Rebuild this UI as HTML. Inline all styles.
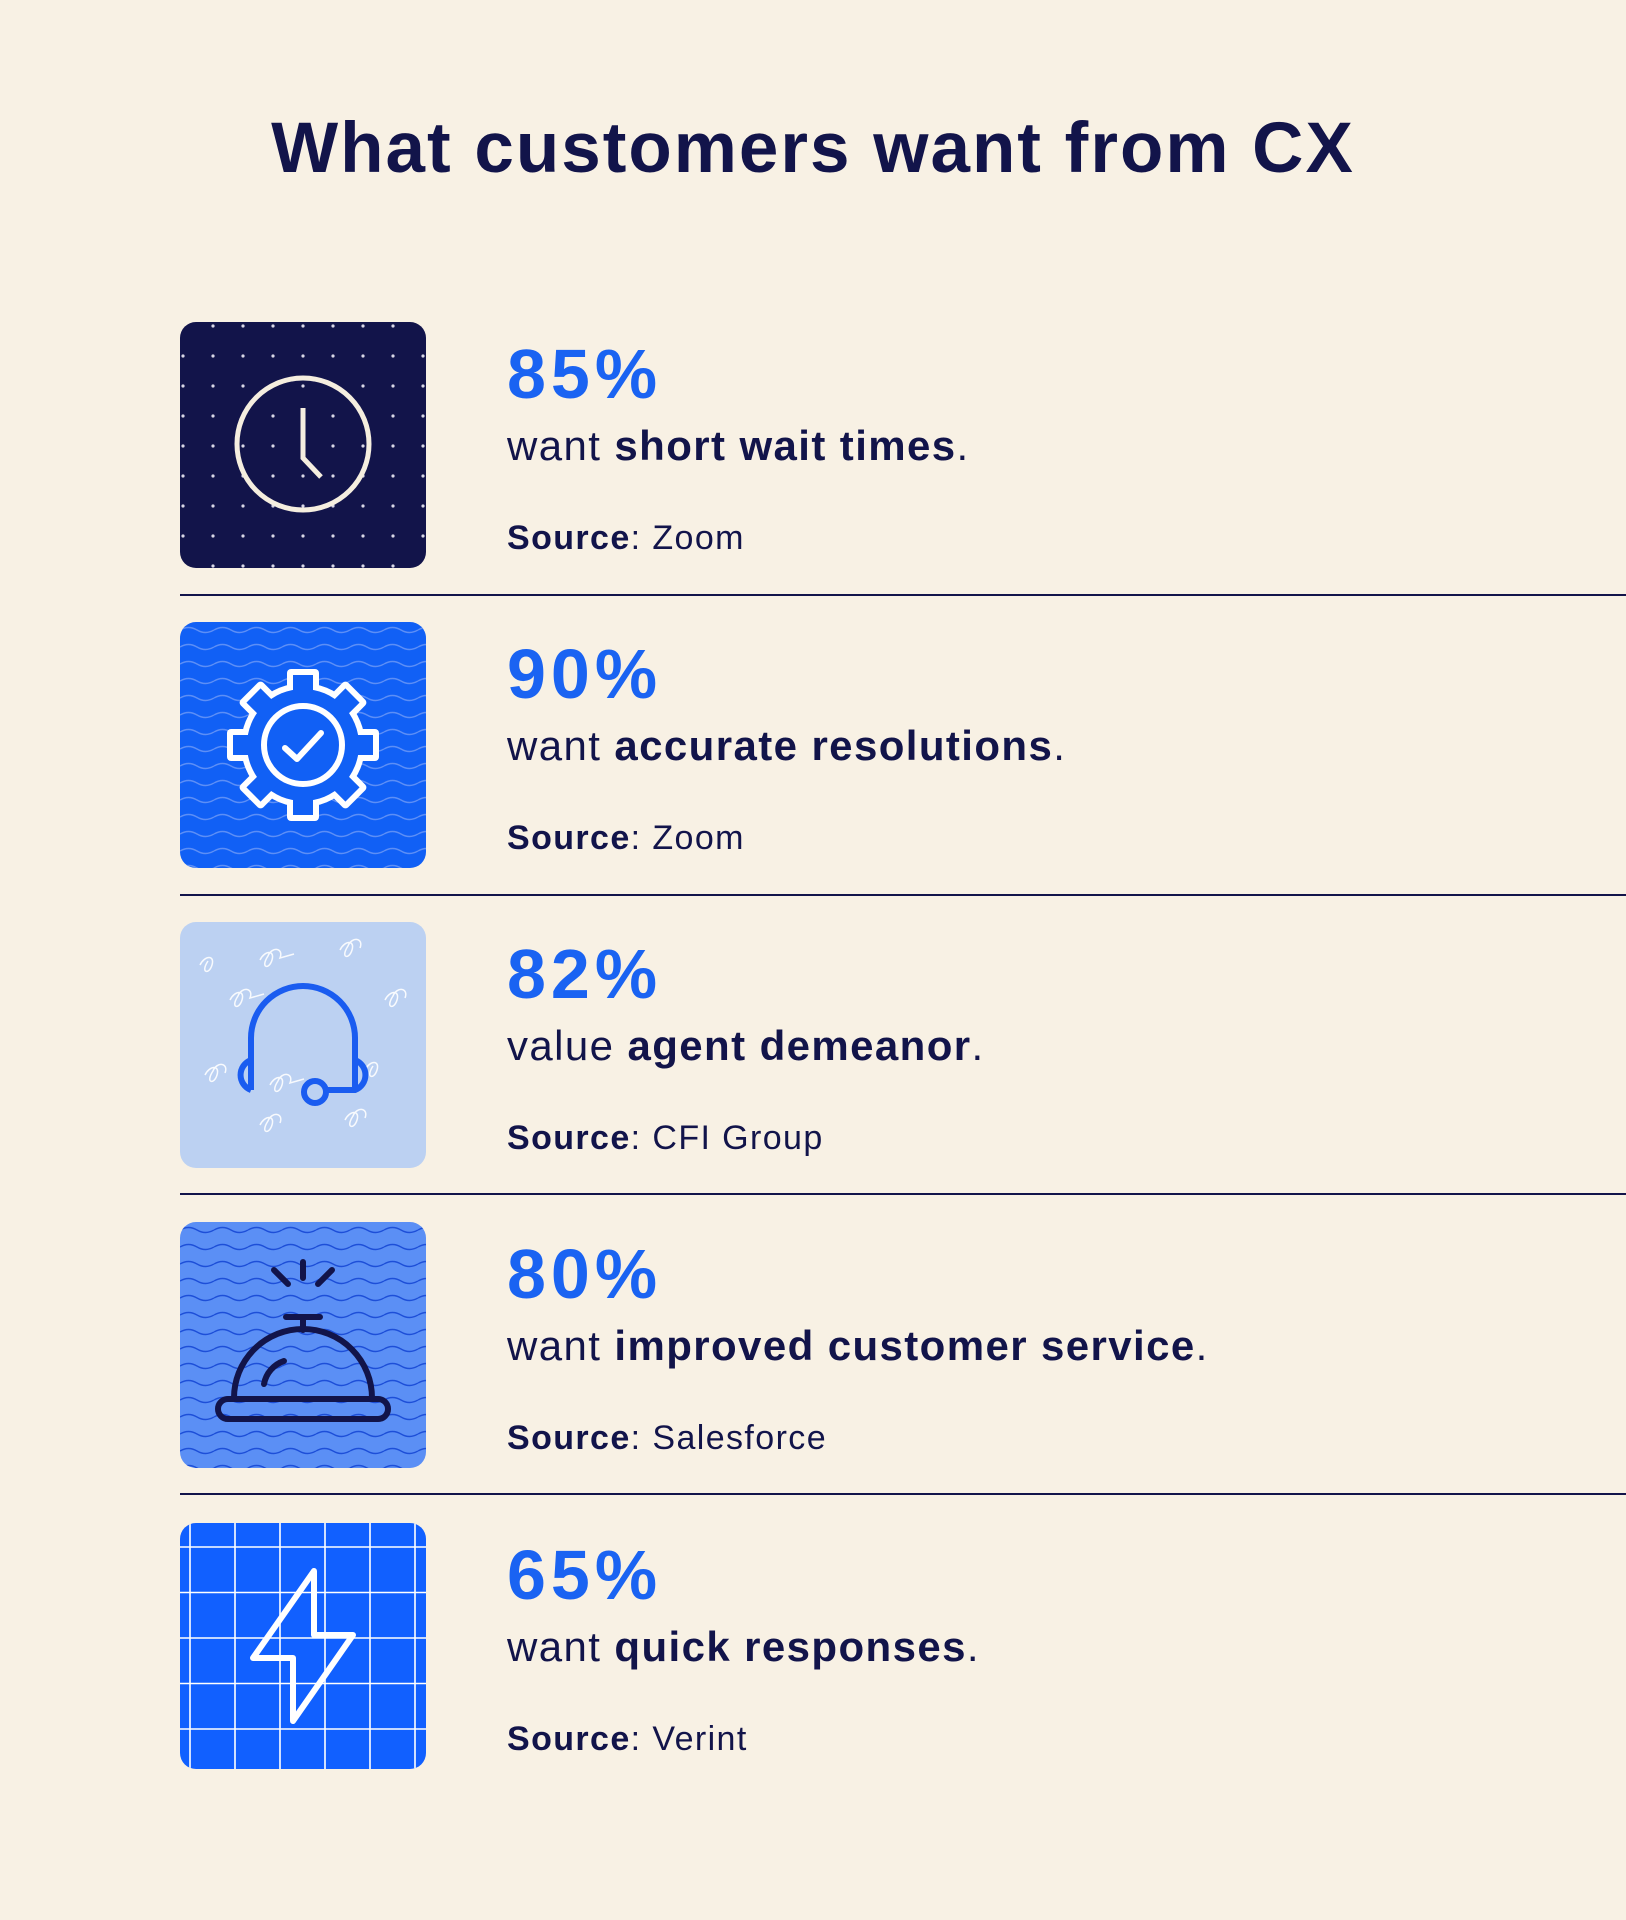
<!DOCTYPE html>
<html><head><meta charset="utf-8"><style>
html,body{margin:0;padding:0;background:#f8f1e4;}
svg{display:block}
text{font-family:"Liberation Sans",sans-serif;}
</style></head><body>
<svg width="1626" height="1920" viewBox="0 0 1626 1920" xmlns="http://www.w3.org/2000/svg">
<defs>
<pattern id="dots" x="180" y="322" width="30" height="30" patternUnits="userSpaceOnUse"><circle cx="3" cy="4" r="1.6" fill="#d8d6e6"/></pattern>
<pattern id="wav1" x="180" y="622" width="34" height="17" patternUnits="userSpaceOnUse"><path d="M0 8 Q8.5 3 17 8 T34 8" fill="none" stroke="#5d8ff6" stroke-width="1.4"/></pattern>
<pattern id="wav2" x="180" y="1222" width="34" height="17" patternUnits="userSpaceOnUse"><path d="M0 8 Q8.5 3 17 8 T34 8" fill="none" stroke="#1d4fd8" stroke-width="1.4"/></pattern>
<pattern id="grid" x="180" y="1523" width="45" height="45.5" patternUnits="userSpaceOnUse"><path d="M10 0V46M0 24H45" stroke="#ffffff" stroke-width="1.6" fill="none"/></pattern>
</defs>
<rect width="1626" height="1920" fill="#f8f1e4"/>
<text x="813" y="172" text-anchor="middle" font-size="71" font-weight="bold" fill="#12144a" letter-spacing="2">What customers want from CX</text>

<!-- row 1 -->
<rect x="180" y="322" width="246" height="246" rx="16" fill="#12144a"/>
<rect x="180" y="322" width="246" height="246" rx="16" fill="url(#dots)"/>
<g fill="none" stroke="#f5eedf" stroke-width="5">
<circle cx="303" cy="444" r="66"/>
<path d="M303 408V458L321 477"/>
</g>
<!-- row 2 -->
<rect x="180" y="622" width="246" height="246" rx="16" fill="#1160f5"/>
<rect x="180" y="622" width="246" height="246" rx="16" fill="url(#wav1)"/>
<g transform="translate(303,745)">
<g fill="#ffffff">
<circle r="62"/>
<g id="tw"><rect x="-16" y="-76" width="32" height="30" rx="4"/></g>
<use href="#tw" transform="rotate(45)"/><use href="#tw" transform="rotate(90)"/><use href="#tw" transform="rotate(135)"/><use href="#tw" transform="rotate(180)"/><use href="#tw" transform="rotate(225)"/><use href="#tw" transform="rotate(270)"/><use href="#tw" transform="rotate(315)"/>
</g>
<g fill="#1160f5">
<circle r="56"/>
<g id="tb"><rect x="-10" y="-70" width="20" height="30"/></g>
<use href="#tb" transform="rotate(45)"/><use href="#tb" transform="rotate(90)"/><use href="#tb" transform="rotate(135)"/><use href="#tb" transform="rotate(180)"/><use href="#tb" transform="rotate(225)"/><use href="#tb" transform="rotate(270)"/><use href="#tb" transform="rotate(315)"/>
</g>
<circle r="39" fill="none" stroke="#fff" stroke-width="6"/>
<path d="M-18 3L-6 14L18 -12" fill="none" stroke="#fff" stroke-width="6" stroke-linecap="round" stroke-linejoin="round"/>
</g>
<!-- row 3 -->
<rect x="180" y="922" width="246" height="246" rx="16" fill="#bcd1f2"/>
<g fill="none" stroke="#ffffff" stroke-width="1.5" opacity="0.9">
<path d="M200 965c5-10 15-10 12 0s-12 8-4-4M260 960c5-10 15-10 12 0s-12 8-4-4c4-10 16-8 12 2l14-4"/>
<path d="M340 950c5-10 15-10 12 0s-12 8-4-4c4-10 16-8 12 2"/>
<path d="M230 1000c5-10 15-10 12 0s-12 8-4-4c4-10 16-8 12 2l14-4"/>
<path d="M385 1000c5-10 15-10 12 0s-12 8-4-4c4-10 16-8 12 2"/>
<path d="M205 1075c5-10 15-10 12 0s-12 8-4-4c4-10 16-8 12 2"/>
<path d="M270 1085c5-10 15-10 12 0s-12 8-4-4c4-10 16-8 12 2l14-4"/>
<path d="M260 1125c5-10 15-10 12 0s-12 8-4-4c4-10 16-8 12 2"/>
<path d="M345 1120c5-10 15-10 12 0s-12 8-4-4c4-10 16-8 12 2"/>
<path d="M365 1070c5-10 15-10 12 0s-12 8-4-4"/>
</g>
<g fill="none" stroke="#1a5cf0" stroke-width="6">
<path d="M251 1090V1038A52 52 0 0 1 355 1038V1090"/>
<path d="M251 1060A16 16 0 0 0 251 1090"/>
<path d="M355 1060A16 16 0 0 1 355 1090H327"/>
<circle cx="315" cy="1092" r="11"/>
</g>
<!-- row 4 -->
<rect x="180" y="1222" width="246" height="246" rx="16" fill="#5b8ff5"/>
<rect x="180" y="1222" width="246" height="246" rx="16" fill="url(#wav2)"/>
<g fill="none" stroke="#12144a" stroke-width="6" stroke-linecap="round">
<path d="M303 1262V1278M274 1270L288 1284M332 1270L318 1284"/>
<path d="M286 1317H320M303 1317V1330"/>
<path d="M234 1398A69 69 0 0 1 372 1398"/>
<path d="M264 1384A30 30 0 0 1 284 1361" />
<rect x="218" y="1399" width="170" height="20" rx="10"/>
</g>
<!-- row 5 -->
<rect x="180" y="1523" width="246" height="246" rx="16" fill="#1160ff"/>
<rect x="180" y="1523" width="246" height="246" rx="16" fill="url(#grid)"/>
<path d="M314 1571V1635H353L293 1721V1658H253Z" fill="none" stroke="#fff" stroke-width="6" stroke-linejoin="round"/>

<!-- dividers -->
<g stroke="#12144a" stroke-width="2"><path d="M180 595H1626M180 895H1626M180 1194H1626M180 1494H1626"/></g>

<g fill="#12144a">
<g font-size="70" font-weight="bold" fill="#1a63f2" letter-spacing="5">
<text x="507" y="398">85%</text>
<text x="507" y="698">90%</text>
<text x="507" y="998">82%</text>
<text x="507" y="1298">80%</text>
<text x="507" y="1599">65%</text>
</g>
<g font-size="42" letter-spacing="1.4">
<text x="507" y="460">want <tspan font-weight="bold">short wait times</tspan>.</text>
<text x="507" y="760">want <tspan font-weight="bold">accurate resolutions</tspan>.</text>
<text x="507" y="1060">value <tspan font-weight="bold">agent demeanor</tspan>.</text>
<text x="507" y="1360">want <tspan font-weight="bold">improved customer service</tspan>.</text>
<text x="507" y="1661">want <tspan font-weight="bold">quick responses</tspan>.</text>
</g>
<g font-size="34" letter-spacing="1.4">
<text x="507" y="549"><tspan font-weight="bold">Source</tspan>: Zoom</text>
<text x="507" y="849"><tspan font-weight="bold">Source</tspan>: Zoom</text>
<text x="507" y="1149"><tspan font-weight="bold">Source</tspan>: CFI Group</text>
<text x="507" y="1449"><tspan font-weight="bold">Source</tspan>: Salesforce</text>
<text x="507" y="1750"><tspan font-weight="bold">Source</tspan>: Verint</text>
</g>
</g>
</svg>
</body></html>
